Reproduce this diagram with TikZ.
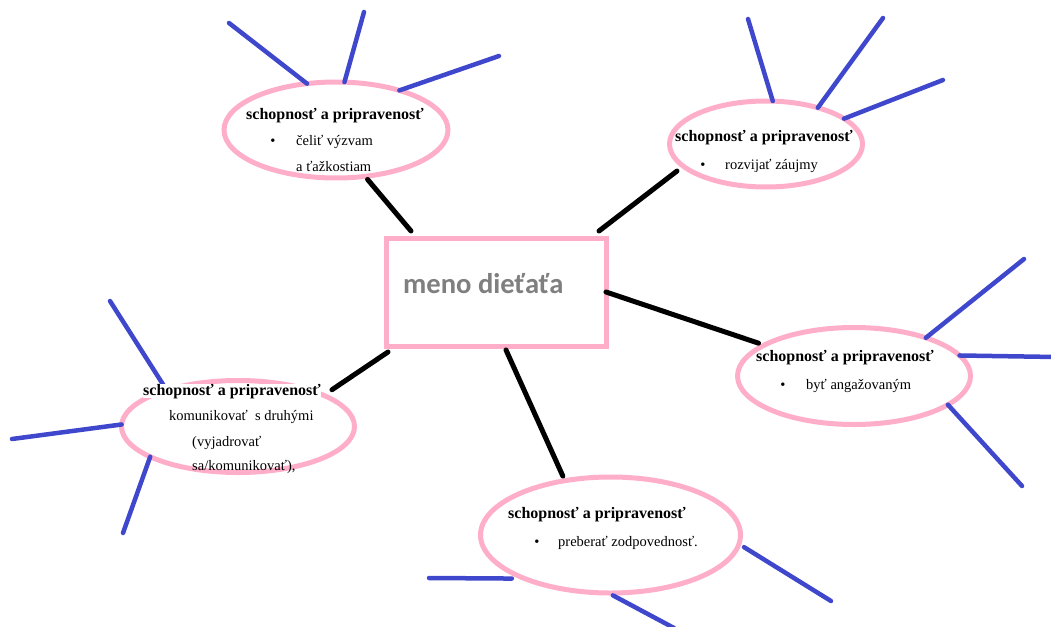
\documentclass[tikz,border=0pt]{standalone}
\usepackage{fontspec}
\setmainfont{Liberation Serif}
\newfontfamily\calibri{Carlito}
\usetikzlibrary{shapes.geometric,calc}
\definecolor{bubblepink}{RGB}{255,174,201}
\definecolor{rayblue}{RGB}{63,72,204}
\definecolor{namegray}{RGB}{127,127,127}
\begin{document}
\begin{tikzpicture}[x=1pt,y=-1pt,
  bubble/.style={draw=bubblepink, line width=5pt, ellipse, inner sep=0pt, outer sep=0pt},
  namebox/.style={draw=bubblepink, line width=5pt, rectangle, inner sep=0pt, outer sep=0pt},
  ray/.style={draw=rayblue, line width=4.5pt, line cap=round},
  link/.style={draw=black, line width=5pt, line cap=round},
  head/.style={font=\fontsize{16}{19}\bfseries\selectfont, anchor=base west, inner sep=0pt},
  item/.style={font=\fontsize{14.5}{17}\selectfont, anchor=base west, inner sep=0pt},
  dot/.style={font=\fontsize{14.5}{17}\selectfont, anchor=base, inner sep=0pt},
]
\useasboundingbox (0,0) rectangle (1051,626);

% central box with the child's name
\node[namebox, minimum width=220pt, minimum height=108pt] (m) at (496,292) {};
\node[font=\calibri\fontsize{28.6}{32}\bfseries\selectfont, text=namegray,
      anchor=base west, inner sep=0pt] (name) at (403,293) {meno dieťaťa};

% the five bubbles
\node[bubble, minimum width=224pt, minimum height=96pt] (e1) at (336,130) {};
\node[bubble, minimum width=193pt, minimum height=86pt] (e2) at (766,144) {};
\node[bubble, minimum width=233pt, minimum height=97pt] (e3) at (854,376) {};
\node[bubble, minimum width=233pt, minimum height=92pt] (e4) at (238,426.5) {};
\node[bubble, minimum width=260pt, minimum height=116pt] (e5) at (610.5,535) {};

% outer ends of the rays
\coordinate (r11) at (229,23);  \coordinate (r12) at (364,12);  \coordinate (r13) at (499,56);
\coordinate (r21) at (748,19);  \coordinate (r22) at (883,18);  \coordinate (r23) at (943,80);
\coordinate (r31) at (1024,259); \coordinate (r32) at (1056,357); \coordinate (r33) at (1022,486);
\coordinate (r41) at (110,301); \coordinate (r42) at (12,439);  \coordinate (r43) at (123,533);
\coordinate (r51) at (429,578); \coordinate (r52) at (674,628); \coordinate (r53) at (831,601);

% rays
\draw[ray] (r11) -- (e1.122.3);
\draw[ray] (r12) -- (e1.80.5);
\draw[ray] (r13) -- (e1.32.5);
\draw[ray] (r21) -- (e2.81.7);
\draw[ray] (r22) -- (e2.35.2);
\draw[ray] (r23) -- (e2.18.4);
\draw[ray] (r31) -- (e3.28.6);
\draw[ray] (r32) -- (e3.11.7);
\draw[ray] (r33) -- (e3.343.1);
\draw[ray] (r41) -- (e4.153.7);
\draw[ray] (r42) -- (e4.179.3);
\draw[ray] (r43) -- (e4.199.8);
\draw[ray, shorten >=13pt] (r51) -- (e5.207.5);
\draw[ray, shorten >=5pt] (r52) -- (e5.268);
\draw[ray, shorten >=6pt] (r53) -- (e5.356.6);

% links between the name and the bubbles
\draw[link, shorten <=4pt] (e1.302.2) -- ($(m.north west)+(25,-7)$);
\draw[link, shorten <=8pt] (e2.195.3) -- ($(m.north east)+(-7,-7)$);
\draw[link, shorten >=6pt] (m.east) -- (e3.161.6);
\draw[link, shorten >=10pt] ($(m.south west)+(2,6)$) -- (e4.20.5);
\draw[link, shorten >=5pt] ($(m.south)+(10,4)$) -- (e5.130.2);

% texts in the bubbles
\node[head] (h1) at (246,119) {schopnosť a pripravenosť};
\node[dot]  (d1) at (273,145) {•};
\node[item] (t1a) at (296,145) {čeliť výzvam};
\node[item] (t1b) at (296,171) {a ťažkostiam};

\node[head] (h2) at (675,141.7) {schopnosť a pripravenosť};
\node[dot]  (d2) at (703,169) {•};
\node[item] (t2) at (725,169) {rozvijať záujmy};

\node[head] (h3) at (756,361.7) {schopnosť a pripravenosť};
\node[dot]  (d3) at (783,389) {•};
\node[item] (t3) at (806,389) {byť angažovaným};

\node[head, fill=white] (h4) at (143,395) {schopnosť a pripravenosť};
\node[item] (t4a) at (169,420) {komunikovať~ s druhými};
\node[item] (t4b) at (192,446) {(vyjadrovať};
\node[item] (t4c) at (192,470) {sa/komunikovať),};

\node[head] (h5) at (508,518) {schopnosť a pripravenosť};
\node[dot]  (d5) at (537,546) {•};
\node[item] (t5) at (558,546) {preberať zodpovednosť.};
\end{tikzpicture}
\end{document}
